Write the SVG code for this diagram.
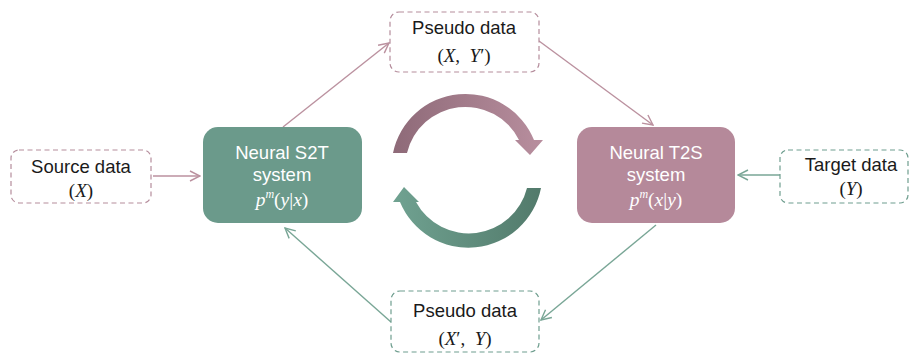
<svg xmlns="http://www.w3.org/2000/svg" width="909" height="357" viewBox="0 0 909 357">
<style>
.lbl{font-family:"Liberation Sans",Arial,sans-serif;font-size:18.5px;fill:#1a1a1a;text-anchor:middle}
.math{font-family:"Liberation Serif","Times New Roman",serif;font-size:19px;fill:#1a1a1a;text-anchor:middle}
.wlbl{font-family:"Liberation Sans",Arial,sans-serif;font-size:18.5px;fill:#ffffff;text-anchor:middle}
.wmath{font-family:"Liberation Serif","Times New Roman",serif;font-size:19.5px;fill:#ffffff;text-anchor:middle}
.dpink{fill:#ffffff;stroke:#b58d9c;stroke-width:1.2;stroke-dasharray:5 3.5}
.dteal{fill:#ffffff;stroke:#6f9e8f;stroke-width:1.2;stroke-dasharray:5 3.5}
.cpink{stroke:#bb919f;stroke-width:1.4;fill:none;marker-end:url(#ap)}
.cteal{stroke:#79a696;stroke-width:1.4;fill:none;marker-end:url(#at)}
</style>
<defs>
<marker id="ap" viewBox="0 0 12 12" refX="11" refY="6" markerWidth="12" markerHeight="12" markerUnits="userSpaceOnUse" orient="auto">
<path d="M1,1 L11,6 L1,11" fill="none" stroke="#bb919f" stroke-width="1.4"/>
</marker>
<marker id="at" viewBox="0 0 12 12" refX="11" refY="6" markerWidth="12" markerHeight="12" markerUnits="userSpaceOnUse" orient="auto">
<path d="M1,1 L11,6 L1,11" fill="none" stroke="#79a696" stroke-width="1.4"/>
</marker>
<linearGradient id="gtop" x1="0" y1="0" x2="1" y2="0">
<stop offset="0" stop-color="#8e6a78"/>
<stop offset="1" stop-color="#b88e9e"/>
</linearGradient>
<linearGradient id="gbot" x1="0" y1="0" x2="1" y2="0">
<stop offset="0" stop-color="#70a291"/>
<stop offset="1" stop-color="#527a6b"/>
</linearGradient>
</defs>

<g id="connectors">
<line class="cpink" x1="153" y1="176" x2="200" y2="176"/>
<line class="cteal" x1="780" y1="175" x2="738" y2="175"/>
<line class="cpink" x1="283" y1="127" x2="389" y2="43"/>
<line class="cpink" x1="539" y1="41" x2="653" y2="125"/>
<line class="cteal" x1="656" y1="225" x2="541" y2="320"/>
<line class="cteal" x1="391" y1="322" x2="285" y2="228"/>
</g>

<g id="cycle">
<path d="M393,153 A74,74 0 0 1 534,140 L543,140 L530,155 L515,140 L519,140 A60,60 0 0 0 407,153 Z" fill="url(#gtop)"/>
<path d="M527,188 L541,188 A74,74 0 0 1 400,202 L393,202 L404,187 L419,202 L416,202 A60,60 0 0 0 527,188 Z" fill="url(#gbot)"/>
</g>

<g id="source">
<rect class="dpink" x="11" y="150" width="140" height="53" rx="8"/>
<text class="lbl" x="81" y="173">Source data</text>
<text class="math" x="81" y="197">(<tspan font-style="italic">X</tspan>)</text>
</g>

<g id="s2t">
<rect x="203" y="127" width="159" height="96" rx="15" fill="#6b9a8b"/>
<text class="wlbl" x="282" y="159">Neural S2T</text>
<text class="wlbl" x="282" y="181">system</text>
<text class="wmath" x="282" y="206"><tspan font-style="italic">p</tspan><tspan font-style="italic" font-size="12" dy="-8">m</tspan><tspan dy="8">(</tspan><tspan font-style="italic">y</tspan>|<tspan font-style="italic">x</tspan>)</text>
</g>

<g id="pseudo-top">
<rect class="dpink" x="390" y="12" width="149" height="60" rx="9"/>
<text class="lbl" x="464" y="34">Pseudo data</text>
<text class="math" x="464" y="62">(<tspan font-style="italic">X</tspan>,&#160;&#160;<tspan font-style="italic">Y</tspan>′)</text>
</g>

<g id="pseudo-bottom">
<rect class="dpink" x="391" y="291" width="148" height="61" rx="9" style="stroke:#6f9e8f"/>
<text class="lbl" x="465" y="317">Pseudo data</text>
<text class="math" x="465" y="345">(<tspan font-style="italic">X</tspan>′,&#160;&#160;<tspan font-style="italic">Y</tspan>)</text>
</g>

<g id="t2s">
<rect x="577" y="127" width="158" height="96" rx="15" fill="#b5899a"/>
<text class="wlbl" x="656" y="159">Neural T2S</text>
<text class="wlbl" x="656" y="181">system</text>
<text class="wmath" x="656" y="206"><tspan font-style="italic">p</tspan><tspan font-style="italic" font-size="12" dy="-8">m</tspan><tspan dy="8">(</tspan><tspan font-style="italic">x</tspan>|<tspan font-style="italic">y</tspan>)</text>
</g>

<g id="target">
<rect class="dteal" x="780" y="150" width="128" height="53" rx="8"/>
<text class="lbl" x="851" y="171">Target data</text>
<text class="math" x="851" y="195">(<tspan font-style="italic">Y</tspan>)</text>
</g>
</svg>
